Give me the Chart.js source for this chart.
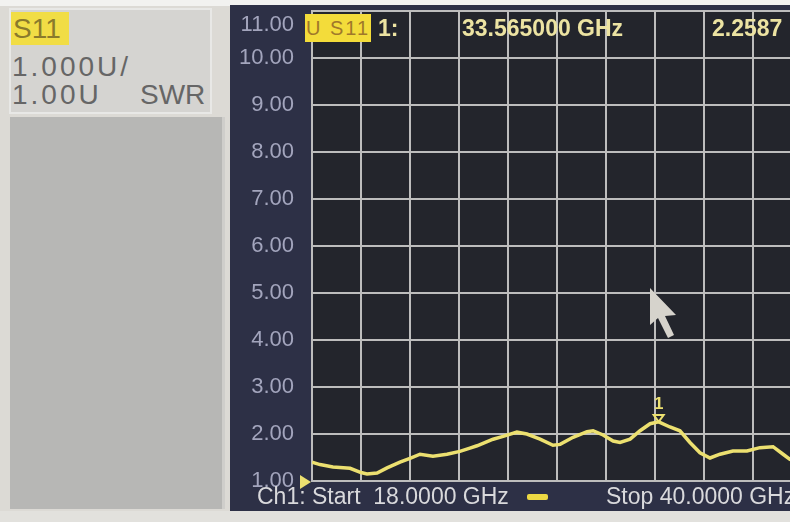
<!DOCTYPE html>
<html>
<head>
<meta charset="utf-8">
<script src="https://cdn.jsdelivr.net/npm/chart.js@4.4.1/dist/chart.umd.min.js"></script>
<style>
  html, body { margin: 0; padding: 0; }
  body { width: 790px; height: 522px; overflow: hidden; position: relative; background: #dcdad5; font-family: "Liberation Sans", Arial, sans-serif; }
  div { white-space: nowrap; }
  #topStrip { position: absolute; left: 0; top: 0; width: 790px; height: 6px; background: #f2f2f0; }
  #leftBox { position: absolute; left: 9px; top: 8px; width: 203px; height: 106px; background: #d5d4d1; border: 2px solid #e8e8e6; box-sizing: border-box; }
  #leftLower { position: absolute; left: 10px; top: 117px; width: 212px; height: 392px; background: #b7b7b5; border-right: 3px solid #cfcecb; }
  #s11 { position: absolute; left: 11px; top: 12px; width: 58px; height: 33px; background: #f1dd45; color: #8a7a2c; font-size: 28px; line-height: 33px; padding-left: 2px; box-sizing: border-box; }
  .lt { position: absolute; color: #666; font-size: 28px; letter-spacing: 3px; }
  #panel { position: absolute; left: 230px; top: 5px; width: 560px; height: 506px; background: #2d3046; }
  #bottomStrip { position: absolute; left: 0; top: 511px; width: 790px; height: 11px; background: #e2e1dd; }
  #chartWrap { position: absolute; left: 230px; top: -33px; width: 600px; height: 555px; }
  .hd { position: absolute; color: #ece3a2; font-weight: bold; font-size: 23px; top: 15px; }
  #us11 { position: absolute; left: 305px; top: 14px; width: 66px; height: 28px; background: #f3dc3a; color: #a0782a; font-size: 20px; line-height: 28px; text-align: center; letter-spacing: 2px; }
  .bt { position: absolute; color: #d9d9dc; font-size: 23px; top: 483px; }
  #dash { position: absolute; left: 527px; top: 494px; width: 21px; height: 6px; background: #ecd843; border-radius: 2px; }
  #cursor { position: absolute; left: 645px; top: 285px; }
</style>
</head>
<body>
<div id="topStrip"></div>
<div id="leftBox"></div>
<div id="s11">S11</div>
<div class="lt" style="left:12px; top:51px;">1.000U/</div>
<div class="lt" style="left:12px; top:79px;">1.00U</div>
<div class="lt" style="left:140px; top:79px; letter-spacing:0;">SWR</div>
<div id="leftLower"></div>
<div id="panel"></div>
<div id="bottomStrip"></div>
<div id="chartWrap"><canvas id="vnaChart" width="600" height="555"></canvas></div>
<div id="us11">U S11</div>
<div class="hd" style="left:378px;">1:</div>
<div class="hd" style="left:462px;">33.565000 GHz</div>
<div class="hd" style="left:712px;">2.2587</div>
<div class="bt" style="left:257px;">Ch1: Start&nbsp; 18.0000 GHz</div>
<div id="dash"></div>
<div class="bt" style="left:606px;">Stop 40.0000 GHz</div>
<svg id="cursor" width="40" height="58"><polygon points="5,3 5,40 13,33 23,53 29,50 20,31 31,30" fill="#d6d3cc" /></svg>

<script>
// Trace (S11 SWR vs frequency)
const freqGHz = [18.00, 18.36, 18.94, 19.71, 20.20, 20.47, 20.92, 21.37, 21.95, 22.40, 22.85, 23.43, 24.06, 24.64, 25.09, 25.41, 26.13, 26.58, 27.20, 27.65, 28.24, 28.82, 29.14, 29.72, 30.35, 30.62, 31.07, 31.52, 31.83, 32.28, 32.73, 33.18, 33.565, 34.07, 34.52, 34.97, 35.42, 35.87, 36.32, 36.90, 37.53, 38.11, 38.70, 39.15, 39.46, 40.00];
const swr = [1.40, 1.35, 1.30, 1.27, 1.18, 1.15, 1.17, 1.28, 1.40, 1.48, 1.57, 1.53, 1.57, 1.63, 1.70, 1.75, 1.89, 1.95, 2.04, 2.00, 1.89, 1.76, 1.78, 1.93, 2.05, 2.07, 1.98, 1.85, 1.82, 1.89, 2.07, 2.22, 2.26, 2.15, 2.07, 1.82, 1.60, 1.49, 1.57, 1.64, 1.64, 1.71, 1.73, 1.57, 1.46, 1.40];

// Grid / ticks
const xGridGHz = [18.0, 20.2, 22.4, 24.6, 26.8, 29.0, 31.2, 33.4, 35.6, 37.8, 40.0];
const yTicks = [1, 2, 3, 4, 5, 6, 7, 8, 9, 10, 11];

// Marker 1
const markerFreq = 33.565;
const markerSwr = 2.2587;

const traceColor = '#ece070';

const vnaPlugin = {
  id: 'vnaPlugin',
  beforeDraw(chart) {
    const { ctx, chartArea } = chart;
    ctx.save();
    ctx.fillStyle = '#23252c';
    ctx.fillRect(chartArea.left, chartArea.top, chartArea.right - chartArea.left, chartArea.bottom - chartArea.top);
    ctx.restore();
  },
  afterDatasetsDraw(chart) {
    const { ctx } = chart;
    const xs = chart.scales.x;
    const ys = chart.scales.y;

    // marker 1
    const mx = xs.getPixelForValue(markerFreq);
    const my = ys.getPixelForValue(markerSwr);
    ctx.save();
    ctx.strokeStyle = traceColor;
    ctx.fillStyle = traceColor;
    ctx.lineWidth = 2;
    ctx.beginPath();
    ctx.moveTo(mx - 5, my - 7);
    ctx.lineTo(mx + 5, my - 7);
    ctx.lineTo(mx, my);
    ctx.closePath();
    ctx.stroke();
    ctx.font = 'bold 17px "Liberation Sans"';
    ctx.textAlign = 'center';
    ctx.textBaseline = 'bottom';
    ctx.fillText('1', mx, my - 9);

    // reference position triangle
    const ry = ys.getPixelForValue(1);
    const rx = xs.getPixelForValue(18);
    ctx.beginPath();
    ctx.moveTo(rx - 12, ry - 6);
    ctx.lineTo(rx - 12, ry + 8);
    ctx.lineTo(rx - 1, ry + 1);
    ctx.closePath();
    ctx.fill();
    ctx.restore();
  }
};

new Chart(document.getElementById('vnaChart'), {
  type: 'line',
  data: {
    datasets: [{
      label: 'S11 SWR',
      data: freqGHz.map((f, i) => ({ x: f, y: swr[i] })),
      borderColor: traceColor,
      borderWidth: 3.5,
      pointRadius: 0,
      tension: 0,
      fill: false
    }]
  },
  options: {
    responsive: false,
    animation: false,
    layout: { autoPadding: false, padding: { left: 0, right: 28, top: 10, bottom: 41 } },
    plugins: {
      legend: { display: false },
      tooltip: { enabled: false }
    },
    scales: {
      x: {
        type: 'linear',
        min: 18,
        max: 40,
        afterBuildTicks: (scale) => { scale.ticks = xGridGHz.map(v => ({ value: v })); },
        afterFit: (scale) => { scale.height = 0; },
        ticks: { display: false },
        grid: { color: '#bdbdbd', lineWidth: 2, drawTicks: false },
        border: { display: true, color: '#bdbdbd', width: 2 }
      },
      y: {
        min: 1,
        max: 11,
        afterBuildTicks: (scale) => { scale.ticks = yTicks.map(v => ({ value: v })); },
        afterFit: (scale) => { scale.width = 82; },
        ticks: {
          color: '#a3a5bd',
          padding: 18,
          autoSkip: false,
          font: { family: 'Liberation Sans', size: 22 },
          // top label sits just under the frame on the instrument
          callback: (v) => v === 11 ? ['', v.toFixed(2)] : v.toFixed(2)
        },
        grid: { color: '#bdbdbd', lineWidth: 2, drawTicks: false },
        border: { display: true, color: '#bdbdbd', width: 2 }
      }
    }
  },
  plugins: [vnaPlugin]
});
</script>
</body>
</html>
